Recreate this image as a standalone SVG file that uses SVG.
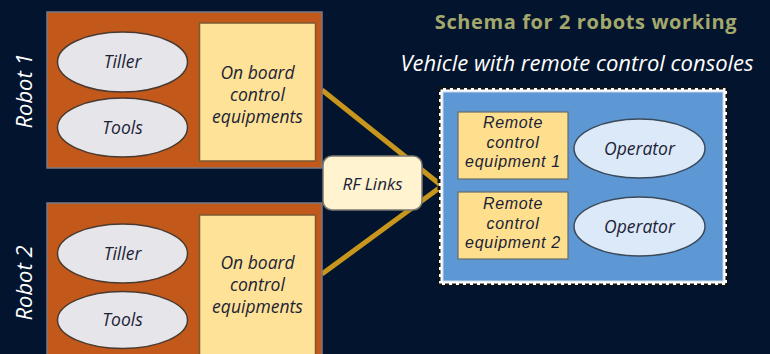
<svg xmlns="http://www.w3.org/2000/svg" width="770" height="354" viewBox="0 0 770 354">
<style>
.t{font-family:"Open Sans","Liberation Sans",sans-serif;font-style:italic;fill:#1c2236;text-anchor:middle}
.robot{fill:#c2581a;stroke:#7a7a86;stroke-width:1.5}
.ell{fill:#e6e6ea;stroke:#4a3a30;stroke-width:1.5}
.board{fill:#fee297;stroke:#7a5a30;stroke-width:1.5}
.rem{fill:#fddf8e;stroke:#6a6a6a;stroke-width:1.2}
.op{fill:#dce9f8;stroke:#3a4a5a;stroke-width:1.5}
.lab{font-family:"Open Sans","Liberation Sans",sans-serif;font-style:italic;fill:#ffffff;text-anchor:middle}
.link{stroke:#c8961c;stroke-width:5;fill:none;stroke-linecap:butt}
.rt{font-family:"Liberation Sans",Arial,sans-serif;font-style:italic;fill:#1c2236;text-anchor:middle;font-size:16px;letter-spacing:0.7px}
</style>
<rect x="0" y="0" width="770" height="354" fill="#03152e"/>

<g id="connectors">
<line class="link" x1="322" y1="90" x2="442" y2="186"/>
<line class="link" x1="322" y1="274" x2="442" y2="186"/>
</g>

<g id="robot1">
<rect class="robot" x="47" y="12" width="275" height="156"/>
<text class="lab" font-size="22" transform="translate(32,91) rotate(-90)">Robot 1</text>
</g>
<g id="tiller1">
<ellipse class="ell" cx="122.5" cy="62" rx="65" ry="30"/>
<text class="t" x="122.5" y="68" font-size="17.5">Tiller</text>
</g>
<g id="tools1">
<ellipse class="ell" cx="122.5" cy="127.5" rx="65" ry="29.5"/>
<text class="t" x="122.5" y="134" font-size="17.5">Tools</text>
</g>
<g id="board1">
<rect class="board" x="199.5" y="23" width="116" height="138"/>
<text class="t" font-size="17.5"><tspan x="257.5" y="79">On board</tspan><tspan x="257.5" y="101">control</tspan><tspan x="257.5" y="123">equipments</tspan></text>
</g>

<g id="robot2">
<rect class="robot" x="47" y="203" width="275" height="160"/>
<text class="lab" font-size="22" transform="translate(32,283) rotate(-90)">Robot 2</text>
</g>
<g id="tiller2">
<ellipse class="ell" cx="122.5" cy="253.5" rx="65" ry="29.5"/>
<text class="t" x="122.5" y="260" font-size="17.5">Tiller</text>
</g>
<g id="tools2">
<ellipse class="ell" cx="122.5" cy="320" rx="65" ry="28.5"/>
<text class="t" x="122.5" y="326" font-size="17.5">Tools</text>
</g>
<g id="board2">
<rect class="board" x="199.5" y="215" width="116" height="145"/>
<text class="t" font-size="17.5"><tspan x="257.5" y="269">On board</tspan><tspan x="257.5" y="291">control</tspan><tspan x="257.5" y="313">equipments</tspan></text>
</g>

<g id="rflinks">
<rect x="323" y="156" width="99" height="54" rx="9" fill="#fff3d0" stroke="#7a7a70" stroke-width="1.5"/>
<text class="t" x="372.5" y="190" font-size="17">RF Links</text>
</g>

<g id="title">
<text x="586" y="29" font-family="'Open Sans','Liberation Sans',sans-serif" font-weight="bold" font-size="20" letter-spacing="0.6" fill="#a4a86c" text-anchor="middle">Schema for 2 robots working</text>
</g>
<g id="vehicle-label">
<text class="lab" x="577" y="71" font-size="22" fill="#f4f4f4">Vehicle with remote control consoles</text>
</g>

<g id="vehicle">
<rect x="439" y="88" width="288" height="197" fill="#ffffff" stroke="none"/>
<rect x="439" y="88" width="288" height="197" fill="none" stroke="#111111" stroke-width="3" stroke-dasharray="4 3"/>
<rect x="443" y="92" width="280" height="189" fill="#5e98d4" stroke="#c8d8ea" stroke-width="1"/>
</g>
<g id="remote1">
<rect class="rem" x="458" y="112" width="110" height="67"/>
<text class="rt"><tspan x="513" y="128">Remote</tspan><tspan x="513" y="147.5">control</tspan><tspan x="513" y="167">equipment 1</tspan></text>
</g>
<g id="remote2">
<rect class="rem" x="458" y="192" width="110" height="67"/>
<text class="rt"><tspan x="513" y="209">Remote</tspan><tspan x="513" y="228.5">control</tspan><tspan x="513" y="248">equipment 2</tspan></text>
</g>
<g id="operator1">
<ellipse class="op" cx="639.5" cy="148.5" rx="65.5" ry="29.5"/>
<text class="t" x="639.5" y="155" font-size="17.5">Operator</text>
</g>
<g id="operator2">
<ellipse class="op" cx="639.5" cy="226.5" rx="65.5" ry="29.5"/>
<text class="t" x="639.5" y="233" font-size="17.5">Operator</text>
</g>
</svg>
